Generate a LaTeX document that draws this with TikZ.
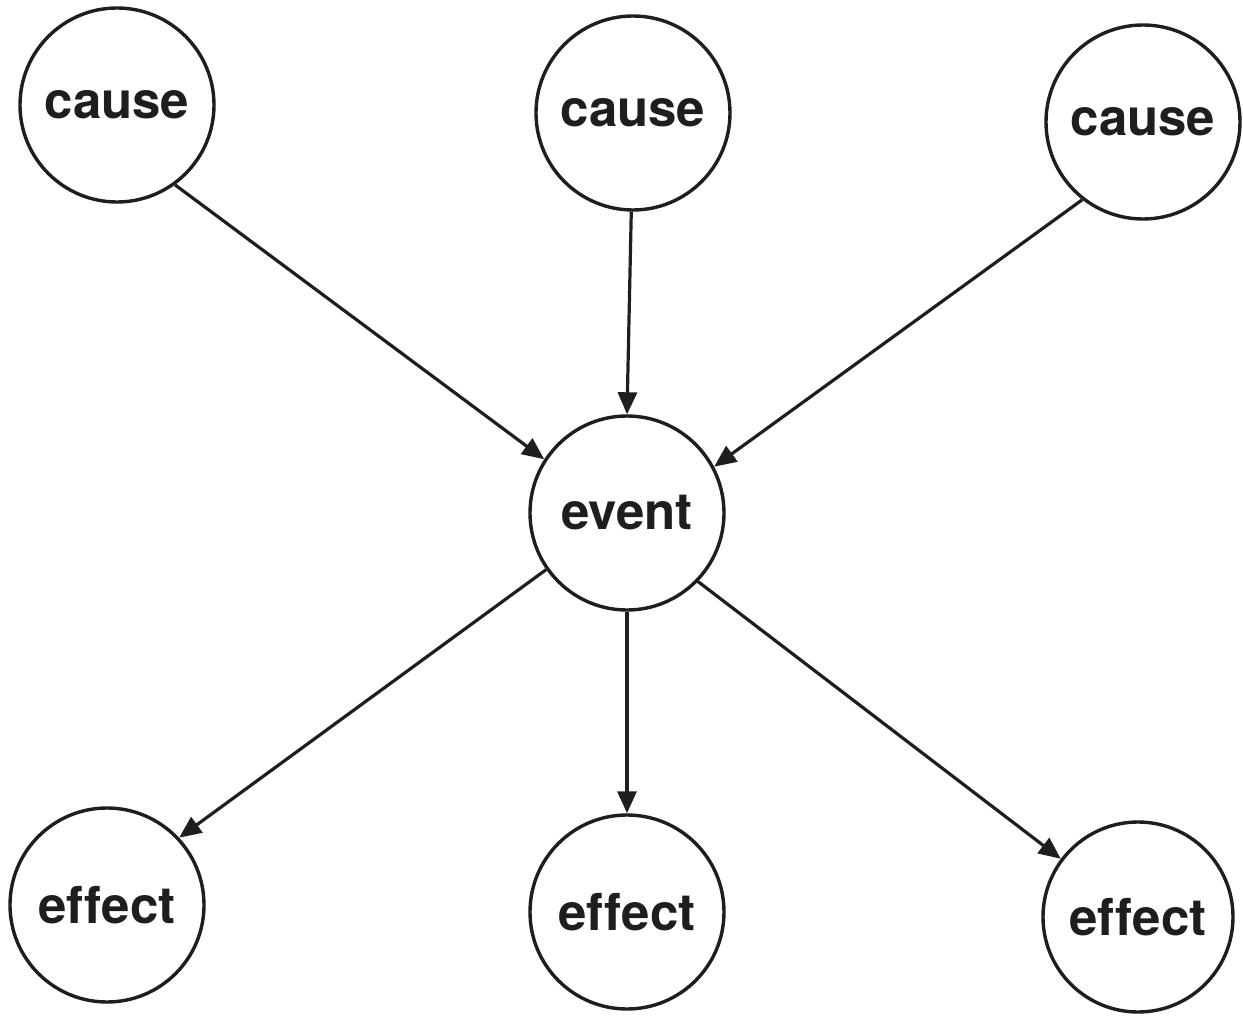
\documentclass[tikz,border=0pt]{standalone}
\usepackage{fontspec}
\setmainfont[Ligatures=NoCommon]{TeX Gyre Heros}
\usetikzlibrary{arrows.meta}
\definecolor{ink}{HTML}{1E1E1E}
\begin{document}
\begin{tikzpicture}[x=1pt,y=-1pt,
  bubble/.style={circle,draw=ink,line width=3.4pt,minimum size=194pt,inner sep=0pt,
    text=ink,font=\fontsize{51}{60}\selectfont\bfseries},
  link/.style={draw=ink,line width=3.2pt,-{Triangle[length=22pt,width=19pt]}}]
\useasboundingbox (0,0) rectangle (1243,1024);
\node[bubble] (c1) at (117,105) {cause};
\node[bubble] (c2) at (633,113) {cause};
\node[bubble] (c3) at (1143,122) {cause};
\node[bubble] (ev) at (627,513) {event};
\node[bubble] (e1) at (107,905) {effect};
\node[bubble] (e2) at (627,912) {effect};
\node[bubble,minimum size=190pt] (e3) at (1138,917) {effect};
\draw[link] (c1.-54) -- (ev.147);
\draw[link] (c2.-91) -- (ev.90);
\draw[link] (c3.-128) -- (ev.28);
\draw[link] (ev.-145) -- (e1.43);
\draw[link] (ev.-90) -- (e2.90);
\draw[link] (ev.-44) -- (e3.143);
\end{tikzpicture}
\end{document}
